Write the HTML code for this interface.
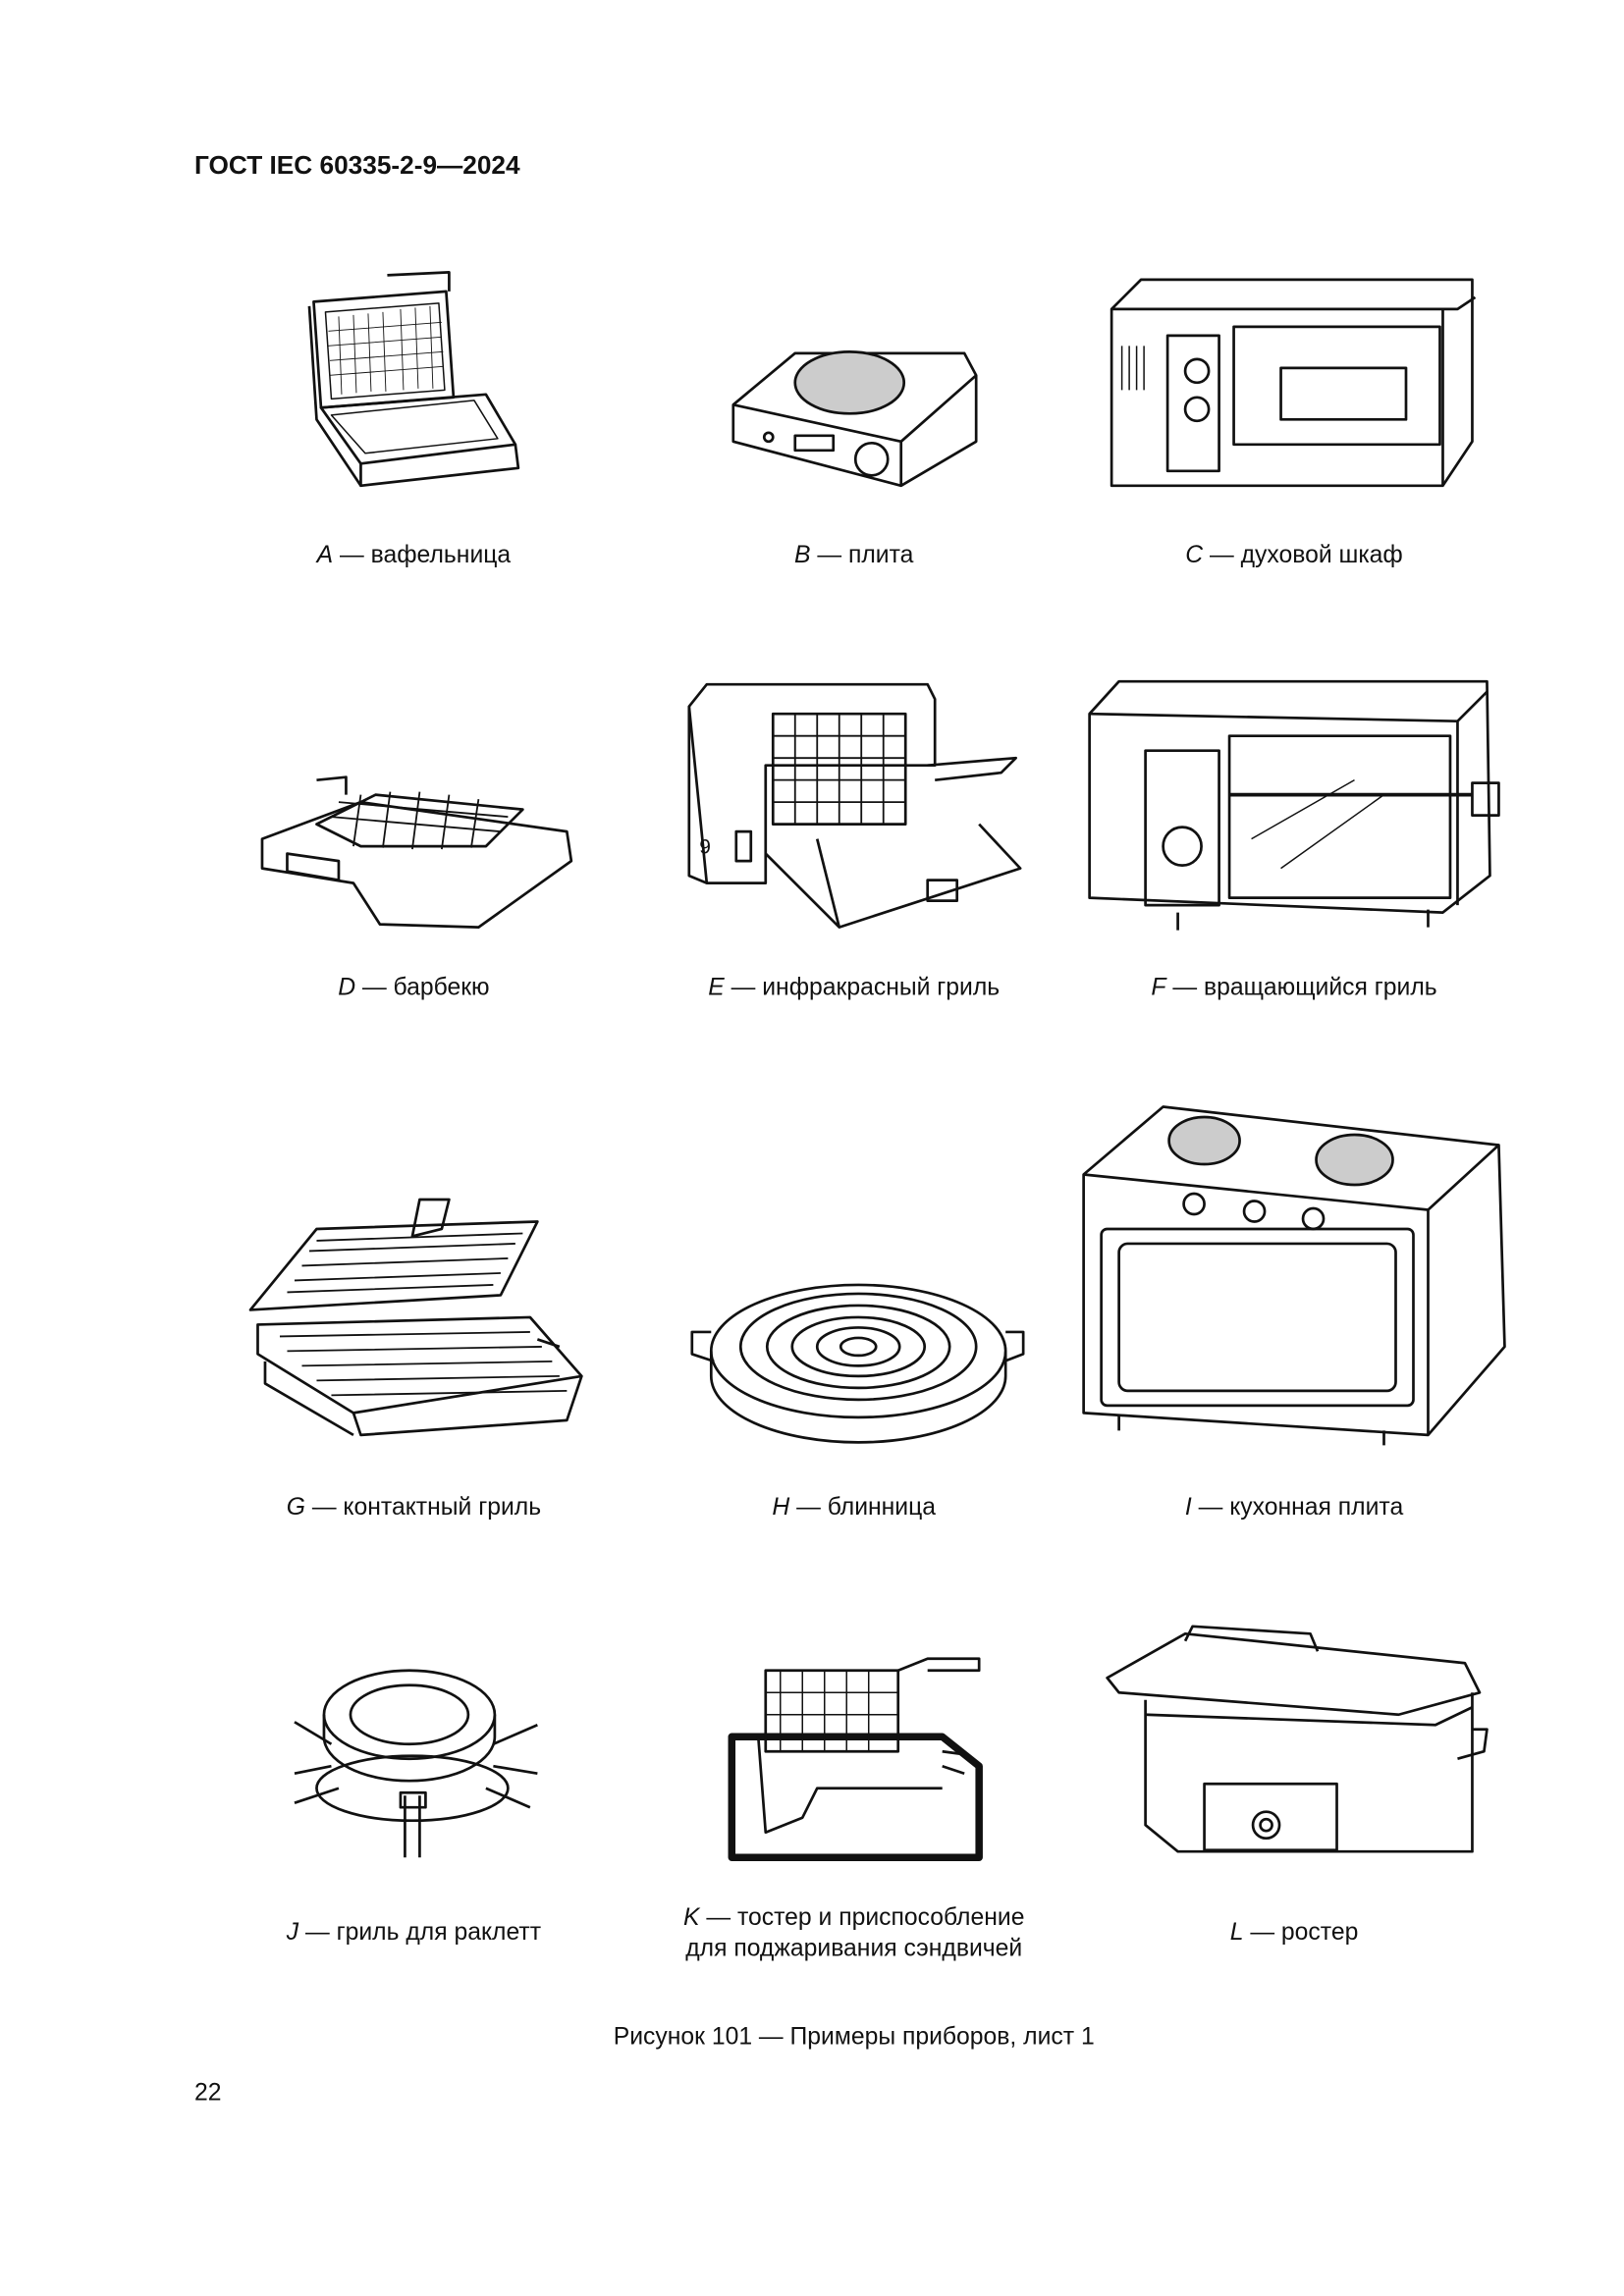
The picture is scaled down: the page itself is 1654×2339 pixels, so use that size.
<!DOCTYPE html>
<html><head><meta charset="utf-8"><style>
html,body{margin:0;padding:0;background:#fff}
svg{display:block}
text{font-family:"Liberation Sans",sans-serif;fill:#111}
</style></head><body>
<svg width="1654" height="2339" viewBox="0 0 1103 1560" xmlns="http://www.w3.org/2000/svg">
<rect width="1103" height="1560" fill="#fff"/>
<text x="132" y="118" font-size="17.5" font-weight="bold">ГОСТ IEC 60335-2-9—2024</text>
<g fill="none" stroke="#111" stroke-width="1.8" stroke-linejoin="round">
<path d="M213 205 L303 198 L308 270 L218 277 Z"/><path d="M221 212 L298 206 L302 265 L225 271 Z" stroke-width="1"/>
<path d="M263 187 L305 185 L305 198"/>
<path d="M218 277 L245 315 L350 302 L330 268 Z"/><path d="M225 282 L248 308 L338 298 L322 272 Z" stroke-width="1"/>
<path d="M245 315 L245 330 L352 318 L350 302"/><path d="M210 208 L215 285 L245 330"/>
<g stroke-width="0.6"><path d="M230 215 L232 268 M240 214 L242 267 M250 213 L252 266 M260 212 L262 266 M272 210 L274 265 M282 209 L284 264 M292 208 L294 264 M223 225 L300 219 M223 235 L300 229 M224 245 L301 239 M224 255 L301 249"/></g>
<path d="M498 275 L540 240 L655 240 L663 255 L663 300 L612 330 L498 300 Z"/><path d="M498 275 L612 300 L663 255 M612 300 L612 330"/>
<ellipse cx="577" cy="260" rx="37" ry="21" fill="#ccc"/><ellipse cx="592" cy="312" rx="11" ry="11"/>
<rect x="540" y="296" width="26" height="10"/><circle cx="522" cy="297" r="3"/>
<path d="M755 210 L775 190 L1000 190 L1000 300 L980 330 L755 330 Z"/><path d="M755 210 L990 210 L1002 202 M980 210 L980 330"/>
<rect x="793" y="228" width="35" height="92"/><rect x="838" y="222" width="140" height="80"/><rect x="870" y="250" width="85" height="35"/>
<circle cx="813" cy="252" r="8"/><circle cx="813" cy="278" r="8"/>
<path d="M762 235 V265 M767 235 V265 M772 235 V265 M777 235 V265" stroke-width="1"/>
<path d="M178 570 L245 545 L385 565 L388 585 L325 630 L258 628 L240 600 L178 590 Z"/>
<path d="M215 560 L255 540 L355 550 L330 575 L245 575 Z"/><path d="M215 530 L235 528 L235 540"/>
<g stroke-width="1.2"><path d="M230 545 L345 555 M225 555 L340 565 M245 540 L240 575 M265 538 L260 576 M285 538 L280 577 M305 540 L300 577 M325 543 L320 576"/></g>
<path d="M195 580 L230 585 L230 598 L195 592 Z"/>
<path d="M468 480 L480 465 L630 465 L635 475 L635 520 L520 520 L520 600 L480 600 Z"/>
<path d="M468 480 L468 595 L480 600"/><rect x="525" y="485" width="90" height="75"/>
<g stroke-width="1.2"><path d="M540 485 V560 M555 485 V560 M570 485 V560 M585 485 V560 M600 485 V560 M525 500 H615 M525 515 H615 M525 530 H615 M525 545 H615"/></g>
<path d="M520 580 L570 630 L693 590 L665 560 M570 630 L555 570"/><path d="M630 520 L690 515 L680 525 L635 530"/>
<rect x="500" y="565" width="10" height="20"/><rect x="630" y="598" width="20" height="14"/>
<text x="475" y="580" font-size="14" stroke="none">9</text>
<path d="M740 485 L760 463 L1010 463 L1012 595 L980 620 L740 610 Z"/><path d="M740 485 L990 490 L1010 470 M990 490 L990 615"/>
<rect x="778" y="510" width="50" height="105"/><rect x="835" y="500" width="150" height="110"/>
<circle cx="803" cy="575" r="13"/><path d="M835 540 L1000 540" stroke-width="2.5"/><rect x="1000" y="532" width="18" height="22"/>
<path d="M800 620 V632 M970 618 V630"/><path d="M850 570 L920 530 M870 590 L940 540" stroke-width="1"/>
<path d="M170 890 L215 835 L365 830 L340 880 Z"/><path d="M285 815 L305 815 L300 835 L280 840 Z"/>
<g stroke-width="1.2"><path d="M200 870 L340 865 M205 860 L345 855 M210 850 L350 845 M215 843 L355 838 M195 878 L335 873"/></g>
<path d="M175 900 L360 895 L395 935 L240 960 L175 920 Z"/>
<g stroke-width="1.2"><path d="M190 908 L360 905 M195 918 L368 915 M205 928 L375 925 M215 938 L380 935 M225 948 L385 945"/></g>
<path d="M240 960 L245 975 L385 965 L395 935 M180 925 L180 940 L240 975"/><path d="M365 910 L380 915"/>
<ellipse cx="583" cy="918" rx="100" ry="45"/><path d="M483 918 V935 A100 45 0 0 0 683 935 V918"/>
<ellipse cx="583" cy="915" rx="80" ry="36"/><ellipse cx="583" cy="915" rx="62" ry="28"/><ellipse cx="583" cy="915" rx="45" ry="20"/><ellipse cx="583" cy="915" rx="28" ry="13"/><ellipse cx="583" cy="915" rx="12" ry="6"/>
<path d="M483 905 L470 905 L470 920 L485 925 M683 905 L695 905 L695 920 L682 925"/>
<path d="M736 798 L790 752 L1018 778 L1022 915 L970 975 L736 960 Z"/><path d="M736 798 L970 822 L1018 778 M970 822 L970 975"/>
<ellipse cx="818" cy="775" rx="24" ry="16" fill="#ccc"/><ellipse cx="920" cy="788" rx="26" ry="17" fill="#ccc"/>
<circle cx="811" cy="818" r="7"/><circle cx="852" cy="823" r="7"/><circle cx="892" cy="828" r="7"/>
<rect x="748" y="835" width="212" height="120" rx="4"/><rect x="760" y="845" width="188" height="100" rx="6"/>
<path d="M760 962 V972 M940 972 V982"/>
<ellipse cx="278" cy="1165" rx="58" ry="30"/><ellipse cx="278" cy="1165" rx="40" ry="20"/><path d="M220 1165 V1180 A58 30 0 0 0 336 1180 V1165"/>
<ellipse cx="280" cy="1215" rx="65" ry="22"/><path d="M200 1170 L225 1185 M365 1172 L335 1185 M200 1205 L225 1200 M200 1225 L230 1215 M365 1205 L335 1200 M360 1228 L330 1215"/>
<path d="M275 1220 L275 1262 M285 1220 L285 1262"/><rect x="272" y="1218" width="17" height="10"/>
<path d="M497 1180 L640 1180 L665 1200 L665 1262 L497 1262 Z" stroke-width="5"/>
<path d="M515 1180 L520 1245 L545 1235 L555 1215 L640 1215"/>
<rect x="520" y="1135" width="90" height="55"/><g stroke-width="1"><path d="M530 1135 V1190 M545 1135 V1190 M560 1135 V1190 M575 1135 V1190 M590 1135 V1190 M520 1150 H610 M520 1165 H610"/></g>
<path d="M610 1135 L630 1127 L665 1127 L665 1135 L630 1135"/><path d="M640 1190 L655 1192 M640 1200 L655 1205"/>
<path d="M752 1140 L805 1110 L995 1130 L1005 1150 L950 1165 L760 1150 Z"/><path d="M805 1115 L810 1105 L890 1110 L895 1122"/>
<path d="M778 1155 L778 1240 L800 1258 L1000 1258 L1000 1150"/><path d="M778 1165 L975 1172 L1000 1160"/>
<rect x="818" y="1212" width="90" height="45"/><circle cx="860" cy="1240" r="9"/><circle cx="860" cy="1240" r="4"/>
<path d="M1000 1175 L1010 1175 L1008 1190 L990 1195"/>
</g>
<g font-size="16.5" text-anchor="middle">
<text x="281" y="382"><tspan font-style="italic">A</tspan> — вафельница</text>
<text x="580" y="382"><tspan font-style="italic">B</tspan> — плита</text>
<text x="879" y="382"><tspan font-style="italic">C</tspan> — духовой шкаф</text>
<text x="281" y="676"><tspan font-style="italic">D</tspan> — барбекю</text>
<text x="580" y="676"><tspan font-style="italic">E</tspan> — инфракрасный гриль</text>
<text x="879" y="676"><tspan font-style="italic">F</tspan> — вращающийся гриль</text>
<text x="281" y="1029"><tspan font-style="italic">G</tspan> — контактный гриль</text>
<text x="580" y="1029"><tspan font-style="italic">H</tspan> — блинница</text>
<text x="879" y="1029"><tspan font-style="italic">I</tspan> — кухонная плита</text>
<text x="281" y="1318"><tspan font-style="italic">J</tspan> — гриль для раклетт</text>
<text x="580" y="1308"><tspan font-style="italic">K</tspan> — тостер и приспособление</text>
<text x="580" y="1329">для поджаривания сэндвичей</text>
<text x="879" y="1318"><tspan font-style="italic">L</tspan> — ростер</text>
<text x="580" y="1389">Рисунок 101 — Примеры приборов, лист 1</text>
</g>
<text x="132" y="1427" font-size="16.5">22</text>
</svg>
</body></html>
